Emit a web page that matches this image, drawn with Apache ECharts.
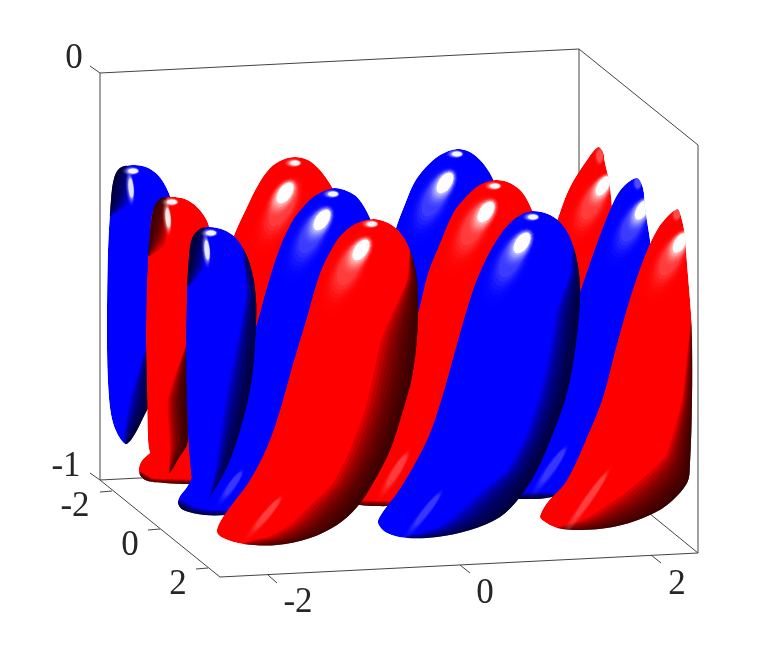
<!DOCTYPE html>
<html><head><meta charset="utf-8">
<style>html,body{margin:0;padding:0;background:#fff}#c{width:772px;height:649px}</style>
<script src="https://cdn.jsdelivr.net/npm/echarts@6/dist/echarts.min.js"></script>
</head><body><div id="c"></div>
<script>
// Box edges and ticks
const boxEdges = [
 [[100,73],[579,49]],[[579,49],[698,145]],[[100,73],[100,480]],[[579,49],[579,456]],[[698,145],[698,553]],
 [[100,480],[579,456]],[[579,456],[698,553]],[[100,480],[220,577]],[[220,577],[698,553]]
];
const tickMarks = [
 [[90,66],[100,73]],[[90,473],[100,480]],
 [[100,492],[112,491]],[[148,530],[160,529]],[[196,569],[208,568]],
 [[268,575],[277,583]],[[460,565],[470,573]],[[651,555],[661,563]]
];
const zTickLabels = [['0',74,59],['-1',66,467]];
const yTickLabels = [['-2',75,507],['0',130,546],['2',178,585]];
const xTickLabels = [['-2',298,603],['0',485,594],['2',677,585]];

// Lobe outlines, back to front
const s1Outline = [[133,165],[146,167],[157,174],[165,185],[172,202],[180,240],[183,290],[175,340],[160,385],[146,412],[133,437],[125,444],[113,423],[108,383],[107,320],[108,250],[111,200],[114,178],[120,168]];
const aOutline = [[295,157],[308,160],[320,170],[332,187],[350,220],[365,280],[365,330],[350,390],[320,440],[280,470],[230,483],[190,484],[165,483],[145,480],[139,472],[141,462],[150,453],[165,440],[185,400],[200,340],[215,290],[235,233],[247,207],[258,185],[270,168],[282,160]];
const bOutline = [[457,149],[470,152],[482,162],[492,177],[510,220],[520,300],[510,380],[440,450],[330,470],[350,400],[380,280],[397,225],[405,204],[414,183],[425,168],[440,155]];
const cOutline = [[598,147],[603,152],[605,163],[609,180],[612,207],[614,240],[610,300],[600,380],[560,440],[500,460],[470,450],[500,380],[530,300],[558,218],[570,187],[587,160]];
const s2Outline = [[172,197],[185,199],[197,207],[208,223],[215,260],[218,300],[215,340],[205,390],[190,440],[186,447],[178,459],[169,473],[155,465],[150,453],[148,440],[147,390],[146,340],[147,280],[150,230],[153,210],[160,199]];
const dOutline = [[335,188],[347,191],[358,198],[370,218],[385,260],[395,300],[390,360],[370,420],[340,470],[300,500],[260,512],[227,515],[205,515],[183,510],[178,503],[180,496],[187,487],[195,470],[215,425],[240,370],[257,323],[267,287],[280,247],[293,220],[303,207],[313,197],[324,191]];
const eOutline = [[497,180],[510,183],[522,192],[532,210],[545,245],[552,300],[550,350],[540,400],[520,440],[495,470],[470,490],[440,503],[390,506],[375,506],[360,505],[345,500],[340,495],[345,480],[365,450],[385,410],[405,355],[418,313],[428,273],[440,243],[453,213],[463,200],[475,188],[486,182]];
const fOutline = [[637,178],[643,188],[645,207],[648,227],[650,240],[655,300],[655,380],[640,440],[610,470],[580,485],[552,497],[523,499],[500,497],[488,490],[490,480],[510,455],[540,390],[560,340],[577,300],[597,243],[613,203],[623,187]];
const s3Outline = [[210,227],[224,230],[236,238],[246,254],[253,276],[256,300],[256,323],[252,377],[242,423],[227,467],[210,497],[208,501],[195,490],[190,463],[187,407],[186,340],[187,290],[189,255],[192,238],[200,229]];
const gOutline = [[373,219],[386,222],[397,229],[406,241],[413,259],[417,280],[418,303],[417,337],[412,377],[403,410],[390,450],[373,483],[357,507],[337,525],[310,538],[277,545],[243,544],[223,538],[217,532],[220,522],[233,503],[250,480],[267,447],[280,410],[292,367],[307,317],[320,273],[335,243],[345,231],[357,223]];
const hOutline = [[533,211],[548,214],[560,222],[569,235],[575,252],[579,273],[580,295],[579,315],[575,350],[567,393],[553,433],[537,470],[520,497],[500,517],[470,530],[437,537],[407,538],[387,533],[378,523],[382,513],[397,493],[413,467],[430,433],[445,387],[458,340],[473,290],[487,257],[502,232],[512,221],[522,214]];
const iOutline = [[677,209],[682,220],[685,237],[687,263],[691,313],[692,340],[692,400],[690,463],[687,483],[667,505],[643,518],[613,527],[580,530],[557,528],[542,520],[540,516],[547,503],[567,480],[590,430],[603,397],[618,340],[637,277],[657,230]];

// Dark bands: outer edge and inner limit of each band
const s1Dark = [[[148,345],[148,410],[128,446]],[[147,345],[130,400],[124,440]]];
const s1Top = [[[109,215],[112,187],[117,169],[126,164]],[[111,216],[127,205],[130,180],[127,172]]];
const s2Dark = [[[187,345],[187,400],[187,445],[169,474]],[[186,345],[168,400],[170,445],[169,473]]];
const s2Top = [[[148,255],[152,217],[157,199],[166,196]],[[150,256],[164,245],[169,220],[167,203]]];
const s3Right = [[[244,245],[258,280],[259,323],[255,377],[245,423],[230,467],[208,503]],[[243,250],[246,295],[238,340],[230,377],[222,423],[216,467],[208,503]]];
const s3Top = [[[187,285],[190,247],[195,231],[204,226]],[[189,286],[203,270],[207,245],[205,233]]];
const gDark = [[[411,247],[418,277],[420,337],[415,377],[406,410],[393,450],[376,483],[360,507],[340,527],[312,541],[277,548],[243,547]],[[410,250],[407,280],[382,337],[373,377],[365,410],[350,450],[333,483],[313,503],[290,525],[268,537],[253,540],[243,544]]];
const hDark = [[[574,240],[582,273],[582,310],[578,350],[570,393],[556,433],[540,470],[523,499],[503,520],[470,533],[437,540],[407,541]],[[573,242],[570,273],[557,310],[550,350],[540,393],[527,433],[507,470],[480,493],[453,517],[437,528],[420,533],[407,536]]];
const iDark = [[[694,320],[695,400],[693,463],[690,485],[670,508],[645,521],[613,530],[580,533],[555,531]],[[691,320],[682,400],[666,455],[650,472],[625,493],[600,510],[585,519],[565,525],[555,528]]];
const eBottom = [[[340,507],[395,509]],[[340,501],[395,502]]];
const fBottom = [[[490,499],[556,499]],[[490,494],[556,493]]];
const dBottom = [[[176,505],[190,514],[205,517],[235,518]],[[180,500],[195,507],[210,510],[235,511]]];
const aBottom = [[[138,474],[150,483],[165,485],[192,486]],[[141,472],[152,478],[167,479],[192,480]]];

// Highlights: cx, cy, half length, half width, angle, peak strength
const s1Glints = [[133,171,5,2.5,0,0.9],[131,188,2.5,10,-5,0.75]];
const s2Glints = [[172,202,5,2.5,0,0.9],[168,218,2.5,10,-5,0.8]];
const s3Glints = [[211,233,5,2.5,0,0.9],[207,250,2.5,10,-5,0.8]];
const aGlints = [[283,205,24,10,-62,0.22],[295,163,5,2.5,0,0.9],[285,193,12,6.5,-56,0.97]];
const bGlints = [[436,195,24,10,-62,0.22],[457,154,5,2.5,0,0.9],[445,183,12,6.5,-56,0.97]];
const cGlints = [[594,200,22,9,-62,0.22],[603,186,11,5.5,-58,0.97],[600,156,3,6,0,0.3]];
const dGlints = [[313,232,24,10,-62,0.22],[333,194,5,2.5,0,0.9],[322,220,12,6.5,-56,0.97],[233,484,14,3,-55,0.2]];
const eGlints = [[475,224,24,10,-62,0.22],[495,186,5,2.5,0,0.9],[486,212,12,6.5,-56,0.97],[397,470,18,3.5,-58,0.22]];
const fGlints = [[634,222,22,9,-62,0.22],[642,210,11,5.5,-60,0.97],[638,183,3,5,0,0.3],[553,466,20,3.5,-55,0.2]];
const gGlints = [[351,264,24,10,-62,0.22],[372,224,5,2.5,0,0.9],[361,250,12,6.5,-56,0.97],[268,513,18,3,-50,0.24]];
const hGlints = [[513,256,24,10,-62,0.22],[533,217,5,2.5,0,0.9],[522,243,12,6.5,-56,0.97],[427,510,20,3,-52,0.2]];
const iGlints = [[672,256,22,9,-62,0.22],[680,243,11,5.5,-60,0.97],[677,214,3,5,0,0.3],[590,497,28,3,-55,0.24]];

const RED = '#ff0000', BLUE = '#0000ff';
const lobes = [
 {fill:BLUE, line:s1Outline, dark:[s1Dark,s1Top], glints:s1Glints},
 {fill:RED,  line:aOutline,  dark:[aBottom], glints:aGlints},
 {fill:BLUE, line:bOutline,  dark:[], glints:bGlints},
 {fill:RED,  line:cOutline,  dark:[], glints:cGlints},
 {fill:RED,  line:s2Outline, dark:[s2Dark,s2Top], glints:s2Glints},
 {fill:BLUE, line:dOutline,  dark:[dBottom], glints:dGlints},
 {fill:RED,  line:eOutline,  dark:[eBottom], glints:eGlints},
 {fill:BLUE, line:fOutline,  dark:[fBottom], glints:fGlints},
 {fill:BLUE, line:s3Outline, dark:[s3Right,s3Top], glints:s3Glints},
 {fill:RED,  line:gOutline,  dark:[gDark], glints:gGlints},
 {fill:BLUE, line:hOutline,  dark:[hDark], glints:hGlints},
 {fill:RED,  line:iOutline,  dark:[iDark], glints:iGlints}
];

const BAND_STEPS = 12, GLINT_STEPS = 9, SMOOTH = 0.33;
const FONT = '"Liberation Serif","DejaVu Serif",serif';

function bandLayers(api, band, fill) {
  const [edge, inner] = band, out = [];
  const shadow = fill === RED ? '#200000' : '#000020';
  for (let k = 1; k <= BAND_STEPS; k++) {
    const t = k / BAND_STEPS;
    const pts = edge.concat(inner.map((p, i) => [edge[i][0] + (p[0]-edge[i][0])*t, edge[i][1] + (p[1]-edge[i][1])*t]).reverse());
    out.push({type:'polygon', shape:{points:pts.map(p => api.coord(p)), smooth:0.2}, style:{fill:shadow, opacity:0.16}});
  }
  return out;
}
function glintLayers(api, g) {
  const [cx, cy, a, b, deg, peak] = g, out = [];
  const r = deg * Math.PI / 180, ux = Math.cos(r), uy = Math.sin(r);
  for (let k = 0; k <= GLINT_STEPS; k++) {
    const t = k / GLINT_STEPS, s = 2.2 - 1.2*t;
    const off = -(s-1) * a * 0.5;
    const pts = [];
    for (let j = 0; j < 16; j++) {
      const q = j / 16 * 2 * Math.PI, ca = Math.cos(q)*a*s, cb = Math.sin(q)*b*s;
      pts.push(api.coord([cx + off*ux + ca*ux - cb*uy, cy + off*uy + ca*uy + cb*ux]));
    }
    const solid = k === GLINT_STEPS && peak > 0.5;
    out.push({type:'polygon', shape:{points:pts}, style:{fill:'#ffffff', opacity: solid ? peak : peak * t * t * 0.35}});
  }
  return out;
}
function renderLobe(params, api) {
  const lobe = lobes[params.dataIndex];
  const pts = lobe.line.map(p => api.coord(p));
  const children = [{type:'polygon', shape:{points:pts, smooth:SMOOTH}, style:{fill:lobe.fill}}];
  lobe.dark.forEach(b => children.push(...bandLayers(api, b, lobe.fill)));
  lobe.glints.forEach(g => children.push(...glintLayers(api, g)));
  return {type:'group', clipPath:{type:'polygon', shape:{points:pts, smooth:SMOOTH}}, children};
}
const segments = boxEdges.concat(tickMarks);
function renderSegment(params, api) {
  const seg = segments[params.dataIndex], a = api.coord(seg[0]), b = api.coord(seg[1]);
  return {type:'line', shape:{x1:a[0], y1:a[1], x2:b[0], y2:b[1]}, style:{stroke:'#444444', lineWidth:1, fill:null}};
}
const labels = zTickLabels.concat(yTickLabels, xTickLabels);
function renderLabel(params, api) {
  const l = labels[params.dataIndex], p = api.coord([l[1], l[2]]);
  return {type:'text', x:p[0], y:p[1], style:{text:l[0], font:'35px '+FONT, fill:'#262626', align:'center', verticalAlign:'middle'}};
}
const chart = echarts.init(document.getElementById('c'), null, {renderer:'canvas'});
chart.setOption({
  animation:false, backgroundColor:'#fff',
  grid:{left:0, right:0, top:0, bottom:0},
  xAxis:{type:'value', min:0, max:772, show:false},
  yAxis:{type:'value', min:0, max:649, inverse:true, show:false},
  series:[
    {type:'custom', coordinateSystem:'cartesian2d', clip:false, silent:true, z:1, data:segments.map((_,i)=>[i]), renderItem:renderSegment},
    {type:'custom', coordinateSystem:'cartesian2d', clip:false, silent:true, z:2, data:lobes.map((_,i)=>[i]), renderItem:renderLobe},
    {type:'custom', coordinateSystem:'cartesian2d', clip:false, silent:true, z:3, data:labels.map((_,i)=>[i]), renderItem:renderLabel}
  ]
});
</script></body></html>
